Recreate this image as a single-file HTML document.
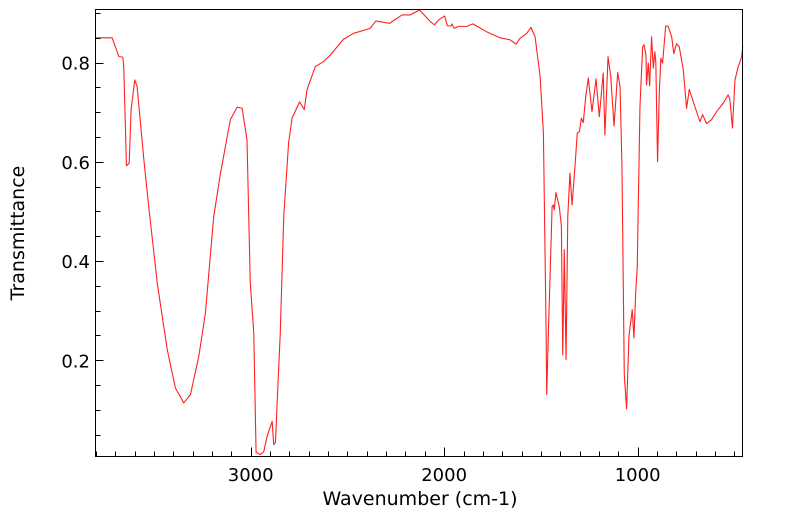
<!DOCTYPE html>
<html><head><meta charset="utf-8"><style>
html,body{margin:0;padding:0;background:#fff;}
svg{display:block;font-family:"DejaVu Sans","Liberation Sans",sans-serif;}
</style></head><body>
<svg id="chart" width="799" height="516" viewBox="0 0 799 516" xmlns="http://www.w3.org/2000/svg">
<rect x="0" y="0" width="799" height="516" fill="#fff"/>
<g id="plot"></g>
<rect x="95.5" y="9.5" width="647" height="447" fill="none" stroke="#000" stroke-width="1"/>
<g id="axes"></g>
<text x="420" y="505" font-size="19" text-anchor="middle" fill="#000">Wavenumber (cm-1)</text>
<text x="24" y="233" font-size="19" text-anchor="middle" fill="#000" transform="rotate(-90 24 233)">Transmittance</text>
</svg>
<script>
const wavenumbers = [3802,3716,3681,3661,3656,3642,3628,3618,3599,3587,3552,3527,3483,3431,3389,3346,3311,3268,3234,3191,3156,3105,3070,3044,3019,3002,2984,2972,2950,2932,2915,2889,2881,2872,2864,2847,2829,2804,2786,2747,2723,2709,2666,2623,2589,2520,2468,2382,2353,2282,2218,2176,2128,2072,2050,2029,1998,1983,1965,1959,1948,1926,1883,1852,1780,1711,1659,1628,1608,1573,1551,1530,1504,1487,1473,1470,1459,1449,1442,1436,1431,1422,1405,1394,1387,1379,1370,1361,1350,1339,1324,1312,1301,1291,1281,1268,1255,1236,1215,1198,1178,1169,1153,1139,1122,1103,1091,1081,1069,1057,1045,1028,1019,1010,1002,988,974,967,957,954,945,938,928,919,911,906,897,888,880,871,855,842,824,813,799,785,764,747,733,704,678,664,644,618,592,558,532,523,510,497,480,462,457];
const transmittance = [0.85,0.85,0.812,0.811,0.792,0.592,0.597,0.705,0.765,0.752,0.604,0.51,0.356,0.221,0.144,0.114,0.131,0.208,0.295,0.49,0.577,0.685,0.71,0.708,0.644,0.356,0.255,0.014,0.01,0.016,0.047,0.077,0.03,0.034,0.107,0.255,0.49,0.638,0.688,0.721,0.705,0.745,0.792,0.802,0.815,0.847,0.859,0.869,0.884,0.879,0.896,0.896,0.906,0.883,0.876,0.886,0.894,0.874,0.874,0.878,0.869,0.873,0.873,0.878,0.862,0.85,0.846,0.837,0.849,0.859,0.871,0.852,0.772,0.658,0.256,0.131,0.288,0.416,0.51,0.513,0.503,0.538,0.51,0.47,0.211,0.423,0.201,0.49,0.577,0.513,0.59,0.658,0.661,0.688,0.679,0.732,0.769,0.701,0.767,0.691,0.779,0.654,0.812,0.772,0.672,0.78,0.752,0.59,0.171,0.102,0.248,0.302,0.245,0.336,0.389,0.711,0.832,0.836,0.816,0.755,0.799,0.753,0.852,0.789,0.822,0.799,0.6,0.738,0.809,0.799,0.874,0.873,0.852,0.818,0.838,0.832,0.785,0.708,0.746,0.711,0.681,0.695,0.677,0.685,0.701,0.718,0.735,0.725,0.668,0.765,0.792,0.812,0.832];
const xTickLabels = [3000,2000,1000];
const yTickLabels = [0.2,0.4,0.6,0.8];

const NS = "http://www.w3.org/2000/svg";
const X0 = 95.5, X1 = 742.5, Y0 = 9.5, Y1 = 456.5;
const WN_LEFT = 3802, WN_RIGHT = 458;
const T_BOTTOM = 0.006, T_TOP = 0.907;
function xScale(w){ return X0 + (WN_LEFT - w) / (WN_LEFT - WN_RIGHT) * (X1 - X0); }
function yScale(t){ return Y1 - (t - T_BOTTOM) / (T_TOP - T_BOTTOM) * (Y1 - Y0); }

const plot = document.getElementById('plot');
const axes = document.getElementById('axes');

let d = '';
for (let i = 0; i < wavenumbers.length; i++) {
  d += (i ? 'L' : 'M') + xScale(wavenumbers[i]).toFixed(2) + ' ' + yScale(transmittance[i]).toFixed(2);
}
const line = document.createElementNS(NS, 'path');
line.setAttribute('d', d);
line.setAttribute('fill', 'none');
line.setAttribute('stroke', '#ff2020');
line.setAttribute('stroke-width', '1.1');
line.setAttribute('stroke-linejoin', 'round');


plot.appendChild(line);

for (let w = 3800; w >= 500; w -= 100) {
  const x = Math.round(xScale(w)) + 0.5;
  const major = w % 1000 === 0;
  const t = document.createElementNS(NS, 'line');
  t.setAttribute('x1', x); t.setAttribute('x2', x);
  t.setAttribute('y1', Y1); t.setAttribute('y2', Y1 - (major ? 9 : 5));
  t.setAttribute('stroke', '#000');
  
  
  axes.appendChild(t);
}
xTickLabels.forEach(v => {
  const tx = document.createElementNS(NS, 'text');
  tx.setAttribute('x', xScale(v));
  tx.setAttribute('y', 481);
  tx.setAttribute('font-size', '18');
  tx.setAttribute('text-anchor', 'middle');
  tx.textContent = String(v);
  
  
  axes.appendChild(tx);
});
for (let k = 1; k <= 18; k++) {
  const v = k * 0.05;
  const y = Math.round(yScale(v)) + 0.5;
  if (y < Y0 || y > Y1) continue;
  const major = k % 4 === 0;
  const t = document.createElementNS(NS, 'line');
  t.setAttribute('x1', X0); t.setAttribute('x2', X0 + (major ? 8 : 5));
  t.setAttribute('y1', y); t.setAttribute('y2', y);
  t.setAttribute('stroke', '#000');
  
  
  axes.appendChild(t);
}
yTickLabels.forEach(v => {
  const tx = document.createElementNS(NS, 'text');
  tx.setAttribute('x', 90);
  tx.setAttribute('y', yScale(v) + 7);
  tx.setAttribute('font-size', '18');
  tx.setAttribute('text-anchor', 'end');
  tx.textContent = v.toFixed(1);
  
  
  axes.appendChild(tx);
});
</script>
</body></html>
